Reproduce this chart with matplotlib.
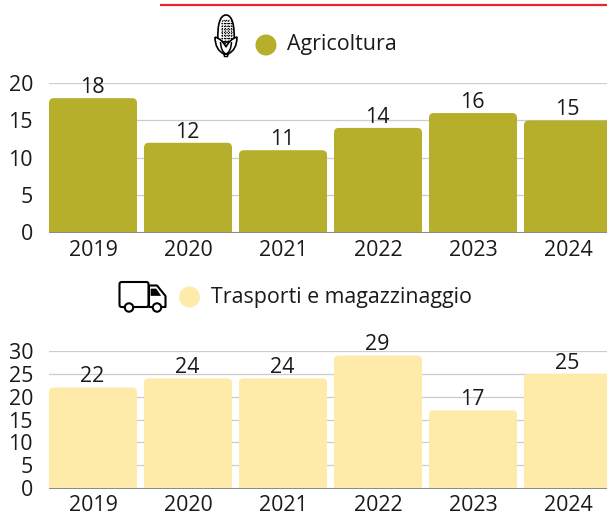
#!/usr/bin/env python3
"""Two bar panels: Agricoltura and Trasporti e magazzinaggio, 2019-2024."""

import matplotlib
matplotlib.use("Agg")
import matplotlib.pyplot as plt
from matplotlib.patches import Circle, FancyBboxPatch, PathPatch, Polygon
from matplotlib.path import Path

W, H = 607, 513

YEARS = ["2019", "2020", "2021", "2022", "2023", "2024"]
AGRI_VALUES = [18, 12, 11, 14, 16, 15]
TRASP_VALUES = [22, 24, 24, 29, 17, 25]
AGRI_TICKS = [0, 5, 10, 15, 20]
TRASP_TICKS = [0, 5, 10, 15, 20, 25, 30]
AGRI_LABEL = "Agricoltura"
TRASP_LABEL = "Trasporti e magazzinaggio"

OLIVE = "#b5af2b"
CREAM = "#feeaa9"
GRID = "#cccccc"
INK = "#1a1a1a"
FS = 15.4

plt.rcParams["font.family"] = ["Open Sans", "DejaVu Sans"]


def rounded_bar(ax, x, width, height, color, rx=0.05, ry_frac=0.033):
    ymax = ax.get_ylim()[1]
    ry = ymax * ry_frac
    left, right = x - width / 2, x + width / 2
    verts = [
        (left, 0), (left, height - ry), (left, height), (left + rx, height),
        (right - rx, height), (right, height), (right, height - ry),
        (right, 0), (left, 0),
    ]
    codes = [
        Path.MOVETO, Path.LINETO, Path.CURVE3, Path.CURVE3,
        Path.LINETO, Path.CURVE3, Path.CURVE3,
        Path.LINETO, Path.CLOSEPOLY,
    ]
    ax.add_patch(PathPatch(Path(verts, codes), facecolor=color, edgecolor="none", zorder=2))


def bar_panel(fig, top, bottom, values, ticks, color, xpad):
    # pixel box of the plot area, runs off the right edge of the figure
    ax = fig.add_axes([49 / W, 1 - bottom / H, (W - 49) / W, (bottom - top) / H])
    # one category slot is 95 px, first slot starts 3.5 px left of the first bar
    ax.set_xlim(-0.5 + 3.5 / 95, -0.5 + 3.5 / 95 + (W - 49) / 95)
    ax.set_ylim(0, ticks[-1])
    for i, val in enumerate(values):
        rounded_bar(ax, i, 88 / 95, val, color)
        ax.annotate(str(val), (i, val), xytext=(-0.5, 3.7), textcoords="offset points",
                    ha="center", va="baseline", fontsize=FS, color=INK,
                    zorder=4, annotation_clip=False)
    ax.set_xticks(range(len(YEARS)), YEARS)
    ax.set_yticks(ticks)
    ax.tick_params(axis="both", length=0, labelsize=FS, labelcolor=INK)
    ax.tick_params(axis="x", pad=xpad)
    ax.tick_params(axis="y", pad=11.5)
    ax.yaxis.grid(True, color=GRID, linewidth=0.9, zorder=1)
    ax.set_axisbelow(True)
    for spine in ax.spines.values():
        spine.set_visible(False)
    ax.spines["bottom"].set_visible(True)
    ax.spines["bottom"].set_color("#888888")
    ax.spines["bottom"].set_linewidth(0.7)
    return ax


def corn_icon(over):
    cob = Path(
        [(218, 42), (217, 25), (220, 15), (226, 15), (232, 15), (235, 25), (234, 42), (218, 42)],
        [Path.MOVETO, Path.CURVE4, Path.CURVE4, Path.CURVE4,
         Path.CURVE4, Path.CURVE4, Path.CURVE4, Path.CLOSEPOLY],
    )
    over.add_patch(PathPatch(cob, fc="white", ec="black", lw=1.2, zorder=2))
    # kernels
    for y in range(20, 44, 3):
        half = 3 if y < 23 else 5.5
        over.plot([226 - half, 226 + half], [y, y], color="black", lw=0.9,
                  ls=(0, (1, 1)), zorder=3)
    for x in (221.5, 224.5, 227.5, 230.5):
        over.plot([x, x], [20, 44], color="black", lw=0.9, ls=(0, (1, 1)), zorder=3)
    # husk: outer leaves with the middle leaf drawn as a U on top
    husk = Path(
        [(215, 37), (215, 50), (224, 54), (228, 54), (237, 50), (237, 37),
         (230, 39), (226, 47), (222, 39), (215, 37)],
        [Path.MOVETO, Path.CURVE3, Path.CURVE3, Path.LINETO, Path.CURVE3, Path.CURVE3,
         Path.CURVE3, Path.CURVE3, Path.CURVE3, Path.CURVE3],
    )
    over.add_patch(PathPatch(husk, fc="white", ec="black", lw=1.2, zorder=4))
    middle = Path(
        [(220.5, 42), (221, 52), (226, 54), (231, 52), (231.5, 42)],
        [Path.MOVETO, Path.CURVE3, Path.CURVE3, Path.CURVE3, Path.CURVE3],
    )
    over.add_patch(PathPatch(middle, fc="none", ec="black", lw=1.1, zorder=5))
    over.plot([224, 224.5, 227.5, 228], [54, 56.5, 56.5, 54], color="black", lw=1.1, zorder=5)


def truck_icon(over):
    over.add_patch(FancyBboxPatch((119.5, 282), 29, 25, boxstyle="round,pad=0,rounding_size=2",
                                  fc="white", ec="black", lw=1.5, zorder=2))
    over.add_patch(Polygon([(149, 285.5), (157, 285.5), (165.5, 296), (165.5, 307), (149, 307)],
                           closed=True, fc="white", ec="black", lw=1.5, joinstyle="round", zorder=2))
    over.add_patch(Polygon([(151, 289), (156, 289), (160.5, 295.5), (151, 295.5)],
                           closed=True, fc="black", ec="black", lw=0.5, zorder=3))
    for cx in (129, 157):
        over.add_patch(Circle((cx, 307.5), 4.2, fc="white", ec="black", lw=1.5, zorder=4))


def main():
    fig = plt.figure(figsize=(W / 100, H / 100), dpi=100)

    bar_panel(fig, 83.3, 232, AGRI_VALUES, AGRI_TICKS, OLIVE, 6)
    bar_panel(fig, 351, 488, TRASP_VALUES, TRASP_TICKS, CREAM, 5)

    # overlay in pixel coordinates for the legends, icons and the cut-off rule
    over = fig.add_axes([0, 0, 1, 1], zorder=10)
    over.set_xlim(0, W)
    over.set_ylim(H, 0)
    over.axis("off")
    over.patch.set_alpha(0)

    over.plot([160, W], [4.5, 4.5], color="#e8262a", lw=1.6, solid_capstyle="butt")

    over.add_patch(Circle((266, 45), 10.5, fc=OLIVE, ec="none"))
    over.text(287, 50, AGRI_LABEL, fontsize=FS, color=INK, va="baseline", ha="left")
    corn_icon(over)

    over.add_patch(Circle((189.5, 297), 10.5, fc=CREAM, ec="none"))
    over.text(211, 302.5, TRASP_LABEL, fontsize=FS, color=INK, va="baseline", ha="left")
    truck_icon(over)

    fig.savefig("out.png", dpi=100)


if __name__ == "__main__":
    main()
